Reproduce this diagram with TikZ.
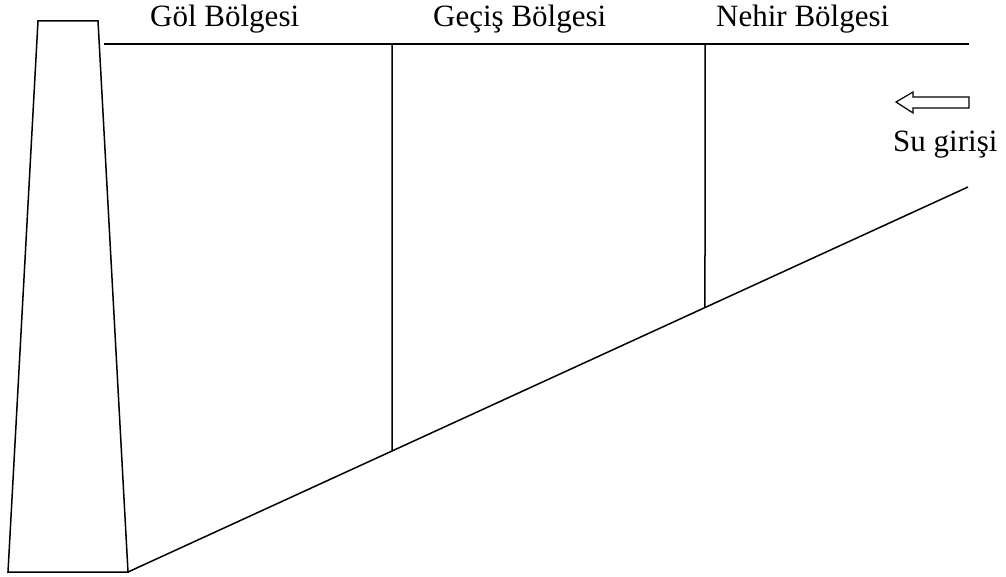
\documentclass[tikz,border=0pt]{standalone}
\usepackage{fontspec}
\setmainfont{Liberation Serif}
\usetikzlibrary{calc}
\begin{document}
\begin{tikzpicture}[x=1pt,y=-1pt,
  line/.style={line width=1.5pt, line join=miter},
  lbl/.style={anchor=base west, inner sep=0pt, font=\fontsize{31}{36}\selectfont}]
\useasboundingbox (0,0) rectangle (1006,577);
% dam
\coordinate (d1) at (38,21);
\coordinate (d2) at (98,21);
\coordinate (d3) at (128,572);
\coordinate (d4) at (8,572);
\draw[line] (d1) -- (d2) -- (d3) -- (d4) -- cycle;
% water surface
\coordinate (w1) at (104,44);
\coordinate (w2) at (969,44);
\draw[line] (w1) -- (w2);
% bed
\coordinate (b2) at (968,187);
\draw[line] (d3) -- (b2);
% zone boundaries
\coordinate (v1t) at (392,44);
\coordinate (v1b) at ($(d3)!{(392-128)/840}!(b2)$);
\coordinate (v2t) at (705,44);
\coordinate (v2b) at ($(d3)!{(705-128)/840}!(b2)$);
\draw[line] (v1t) -- (v1b);
\draw[line] (v2t) -- (v2b);
% labels
\node[lbl] (l1) at (150,27) {Göl Bölgesi};
\node[lbl] (l2) at (433,27) {Geçiş Bölgesi};
\node[lbl] (l3) at (716,27) {Nehir Bölgesi};
\node[lbl] (l4) at (893,152) {Su girişi};
% inflow arrow
\draw[line width=1.2pt, line join=miter] (896,102) -- (913,92) -- (913,97) -- (969,97) -- (969,108) -- (913,108) -- (913,113) -- cycle;
\end{tikzpicture}
\end{document}
